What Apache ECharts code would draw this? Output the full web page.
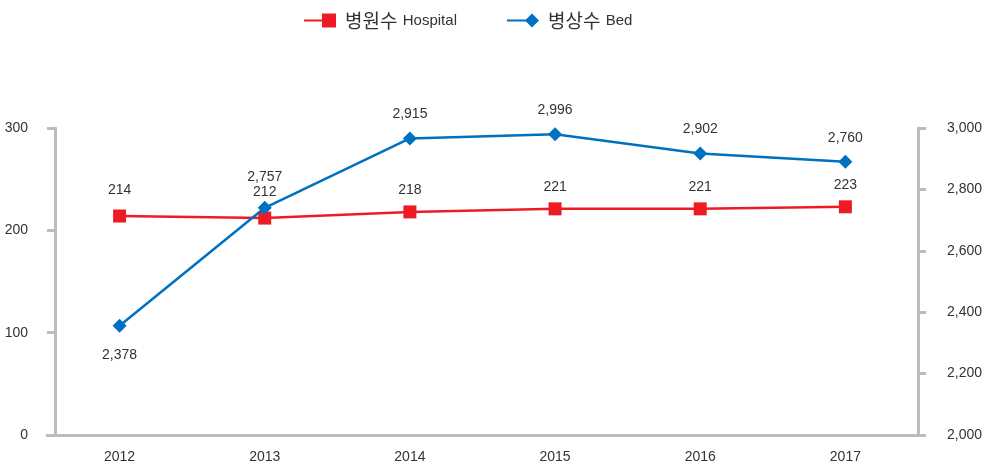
<!DOCTYPE html>
<html>
<head>
<meta charset="utf-8">
<script src="https://cdn.jsdelivr.net/npm/echarts@6/dist/echarts.min.js"></script>
<style>
    html, body { margin: 0; padding: 0; background: #fff; }
    #main { width: 985px; height: 468px; }
</style>
</head>
<body>
<div id="main"></div>
<script>
var years = ['2012', '2013', '2014', '2015', '2016', '2017'];

// 병원수 Hospital (left axis)
var hospital = [214, 212, 218, 221, 221, 223];

// 병상수 Bed (right axis) - points as drawn in the picture
var bed = [2356, 2740, 2966, 2980, 2917, 2890];
// printed figures next to the bed points
var bedLabels = ['2,378', '2,757', '2,915', '2,996', '2,902', '2,760'];

var leftTicks = [0, 100, 200, 300];
var rightTicks = [2000, 2200, 2400, 2600, 2800, 3000];

var narrow = '"Liberation Sans Narrow", "Arial Narrow", "Liberation Sans", sans-serif';
var gray = '#bcbdc0';
var red = '#ed1c24';
var blue = '#0070c0';

var englishNames = {'병원수': 'Hospital', '병상수': 'Bed'};

var bedData = bed.map(function (v, i) {
    var item = {value: v, label: {formatter: bedLabels[i]}};
    if (i == 0) {
        item.label.position = 'bottom';
        item.label.distance = 15;
    }
    if (i == 1) {
        item.label.distance = 17;
    }
    return item;
});

var hospitalData = hospital.map(function (v, i) {
    var item = {value: v};
    if (i < 2) {
        item.label = {distance: 12};
    }
    return item;
});

var myChart = echarts.init(document.getElementById('main'));

var option = {
    animation: false,
    legend: {
        left: 299,
        top: 6,
        itemGap: 50,
        itemWidth: 32,
        itemHeight: 14,
        data: [
            {name: '병원수', icon: 'path://M0,6h19v2h-19z M18,0h14v14h-14z'},
            {name: '병상수', icon: 'path://M0,6h22v2h-22z M25,0l7,7l-7,7l-7,-7z'}
        ],
        formatter: function (name) {
            return '{ko|' + name + '} {en|' + englishNames[name] + '}';
        },
        textStyle: {
            rich: {
                ko: {fontFamily: '"Noto Sans CJK KR", sans-serif', fontSize: 19, color: '#333', padding: [0, 2, 0, 4]},
                en: {fontFamily: '"Liberation Sans", Arial, sans-serif', fontSize: 15, color: '#333'}
            }
        }
    },
    grid: {
        left: 47,
        right: 65,
        top: 128,
        bottom: 33
    },
    xAxis: {
        type: 'category',
        data: years,
        boundaryGap: true,
        axisLine: {lineStyle: {color: gray, width: 3}},
        axisTick: {show: false},
        axisLabel: {margin: 15, fontFamily: narrow, fontSize: 14, color: '#333'}
    },
    yAxis: [
        {
            type: 'value',
            min: leftTicks[0],
            max: leftTicks[leftTicks.length - 1],
            interval: 100,
            offset: -8,
            splitLine: {show: false},
            axisLine: {show: true, lineStyle: {color: gray, width: 3}},
            axisTick: {show: true, length: 8, lineStyle: {color: gray, width: 3}},
            axisLabel: {margin: 27, fontFamily: narrow, fontSize: 14, color: '#333'}
        },
        {
            type: 'value',
            position: 'right',
            min: rightTicks[0],
            max: rightTicks[rightTicks.length - 1],
            interval: 200,
            splitLine: {show: false},
            axisLine: {show: true, lineStyle: {color: gray, width: 3}},
            axisTick: {show: true, length: 8, lineStyle: {color: gray, width: 3}},
            axisLabel: {
                margin: 29, fontFamily: narrow, fontSize: 14, color: '#333',
                formatter: function (v) {
                    return v.toLocaleString('en-US');
                }
            }
        }
    ],
    series: [
        {
            name: '병원수',
            type: 'line',
            yAxisIndex: 0,
            data: hospitalData,
            symbol: 'rect',
            symbolSize: 13,
            lineStyle: {color: red, width: 2.5},
            itemStyle: {color: red},
            label: {show: true, position: 'top', distance: 8, fontFamily: narrow, fontSize: 14, color: '#333'},
            z: 2
        },
        {
            name: '병상수',
            type: 'line',
            yAxisIndex: 1,
            data: bedData,
            symbol: 'diamond',
            symbolSize: 14,
            lineStyle: {color: blue, width: 2.5},
            itemStyle: {color: blue},
            label: {show: true, position: 'top', distance: 10, fontFamily: narrow, fontSize: 14, color: '#333'},
            z: 3
        }
    ]
};

myChart.setOption(option);
window.onresize = myChart.resize;
</script>
</body>
</html>
